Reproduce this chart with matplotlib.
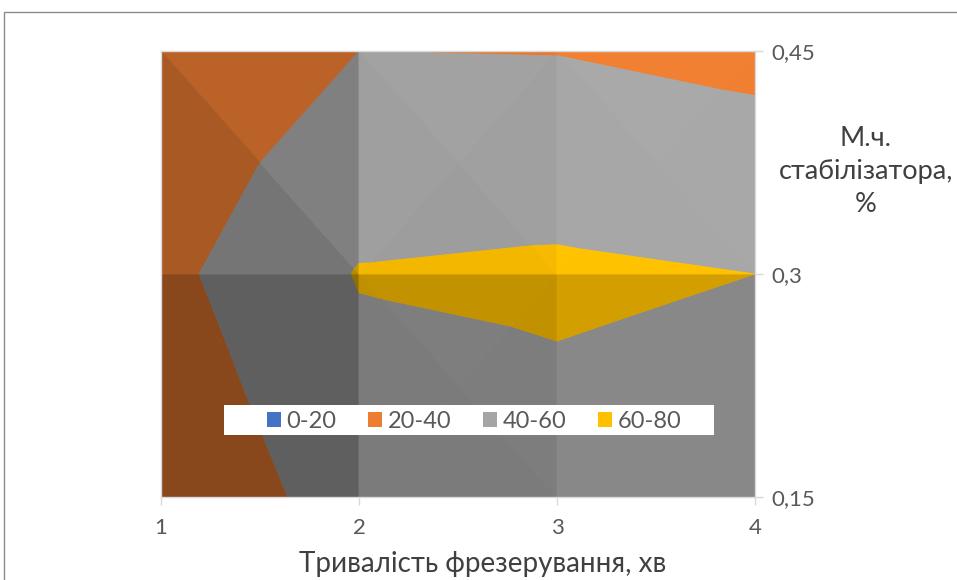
import numpy as np
import matplotlib
matplotlib.use('Agg')
import matplotlib.pyplot as plt
from matplotlib.patches import Patch, Rectangle

# сітка: тривалість фрезерування (хв) x масова частка стабілізатора (%)
x_vals = [1, 2, 3, 4]
y_vals = [0.15, 0.3, 0.45]
z_vals = [
    [24, 49, 52.8, 49.6],   # 0,15
    [35, 61, 63.1, 60],     # 0,3
    [24, 40, 39.5, 35],     # 0,45
]
levels = [0, 20, 40, 60, 80]
band_labels = ['0-20', '20-40', '40-60', '60-80']
band_colors = ['#4472C4', '#ED7D31', '#A5A5A5', '#FFC000']
x_ticks = [1, 2, 3, 4]
y_ticks = [0.15, 0.3, 0.45]
y_ticklabels = ['0,15', '0,3', '0,45']

plt.rcParams['font.family'] = ['Lato', 'Open Sans', 'DejaVu Sans']


def clip(poly, vals, level, keep_above):
    out_p, out_v = [], []
    n = len(poly)
    for i in range(n):
        p1, v1 = poly[i], vals[i]
        p2, v2 = poly[(i + 1) % n], vals[(i + 1) % n]
        in1 = v1 >= level if keep_above else v1 <= level
        in2 = v2 >= level if keep_above else v2 <= level
        if in1:
            out_p.append(p1)
            out_v.append(v1)
        if in1 != in2:
            t = (level - v1) / (v2 - v1)
            out_p.append(p1 + t * (p2 - p1))
            out_v.append(level)
    return out_p, out_v


def shade(tri_p, tri_v, dy_cell):
    # площина z = a*x + b*y + c, освітлення за нормаллю грані
    A = np.column_stack([tri_p[:, 0], tri_p[:, 1], np.ones(3)])
    a, b, c = np.linalg.solve(A, tri_v)
    p = a / 30.0
    q = b * dy_cell / 30.0
    n = np.array([-p, -q, 1.0]) / np.sqrt(1 + p * p + q * q)
    return 0.855 + 0.36 * n[0] + 0.2 * n[1]


# трикутники як у поверхневій діаграмі Excel: кожна комірка ділиться центром на 4
X = np.array(x_vals, float)
Y = np.array(y_vals, float)
Z = np.array(z_vals, float)
triangles = []
for j in range(len(Y) - 1):
    for i in range(len(X) - 1):
        c00 = (np.array([X[i], Y[j]]), Z[j, i])
        c10 = (np.array([X[i + 1], Y[j]]), Z[j, i + 1])
        c11 = (np.array([X[i + 1], Y[j + 1]]), Z[j + 1, i + 1])
        c01 = (np.array([X[i], Y[j + 1]]), Z[j + 1, i])
        ctr = ((c00[0] + c11[0]) / 2, (c00[1] + c10[1] + c11[1] + c01[1]) / 4)
        for e1, e2 in [(c00, c10), (c10, c11), (c11, c01), (c01, c00)]:
            triangles.append((np.array([e1[0], e2[0], ctr[0]]),
                              np.array([e1[1], e2[1], ctr[1]])))

fig = plt.figure(figsize=(9.57, 5.8), dpi=100)
ax = fig.add_axes([161 / 957, 83 / 580, 594 / 957, 446 / 580])

dy_cell = Y[1] - Y[0]
for tri_p, tri_v in triangles:
    f = shade(tri_p, tri_v, dy_cell)
    for k in range(len(levels) - 1):
        pts, vals = clip(list(tri_p), list(tri_v), levels[k], True)
        if len(pts) < 3:
            continue
        pts, vals = clip(pts, vals, levels[k + 1], False)
        if len(pts) < 3:
            continue
        rgb = np.clip(np.array(matplotlib.colors.to_rgb(band_colors[k])) * f, 0, 1)
        pts = np.array(pts)
        ax.fill(pts[:, 0], pts[:, 1], facecolor=rgb, edgecolor=rgb, lw=0.6)

ax.set_xlim(1, 4)
ax.set_ylim(0.15, 0.45)
ax.set_xticks(x_ticks)
ax.set_xticklabels([str(v) for v in x_ticks])
ax.yaxis.tick_right()
ax.set_yticks(y_ticks)
ax.set_yticklabels(y_ticklabels)
for s in ax.spines.values():
    s.set_color('#D9D9D9')
    s.set_linewidth(1)
ax.tick_params(axis='both', colors='#D9D9D9', labelcolor='#595959',
               labelsize=16, length=6, width=1)
ax.tick_params(axis='x', pad=9)
ax.tick_params(axis='y', pad=6)

# біла підкладка легенди
fig.add_artist(Rectangle((224 / 957, 1 - 435 / 580), 490 / 957, 30 / 580,
                         transform=fig.transFigure, facecolor='white',
                         edgecolor='none', zorder=4))
handles = [Patch(facecolor=c, edgecolor='none') for c in band_colors]
leg = fig.legend(handles, band_labels, ncol=4, loc='center',
                 bbox_to_anchor=(474 / 957, 1 - 421 / 580), fontsize=17,
                 frameon=False, handlelength=0.6, handleheight=0.6,
                 handletextpad=0.22, columnspacing=1.35, borderpad=0.2)
leg.set_zorder(5)
for t in leg.get_texts():
    t.set_color('#595959')

fig.text(483 / 957, 1 - 564 / 580, 'Тривалість фрезерування, хв',
         ha='center', va='center', fontsize=20, color='#404040')
fig.text(866 / 957, 1 - 172 / 580, 'М.ч.\nстабілізатора,\n%',
         ha='center', va='center', fontsize=19.5, color='#404040',
         linespacing=1.4)

fig.add_artist(Rectangle((4 / 957, -0.2), 1.5, 1 - 12 / 580 + 0.2,
                         transform=fig.transFigure, fill=False,
                         edgecolor='#8C8C8C', lw=1))

fig.savefig('out.png', dpi=100)
